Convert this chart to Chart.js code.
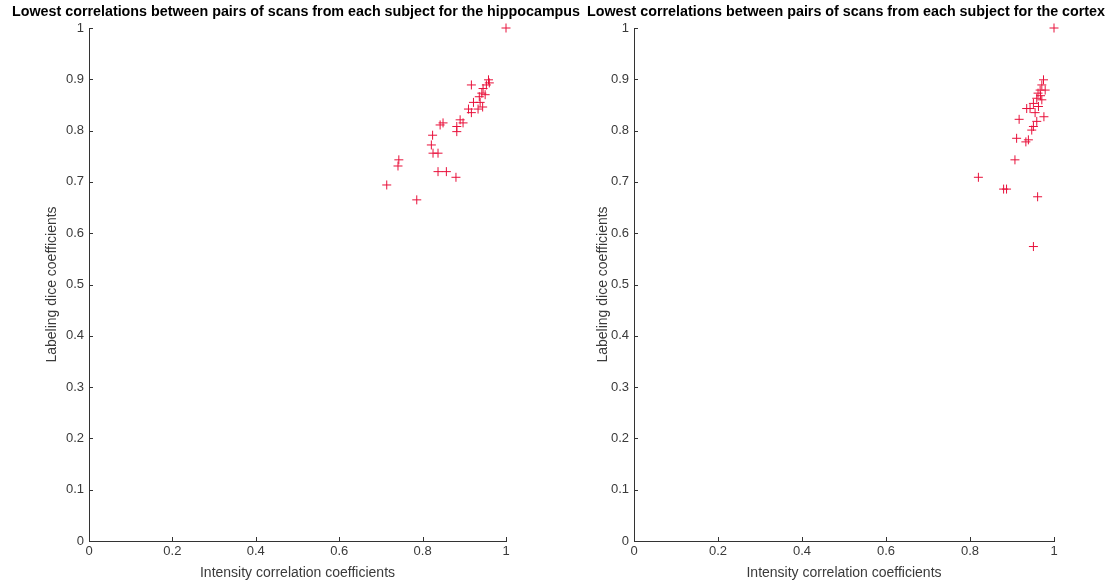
<!DOCTYPE html>
<html>
<head>
<meta charset="utf-8">
<script src="https://cdn.jsdelivr.net/npm/chart.js@4.4.1/dist/chart.umd.min.js"></script>
<style>
  html, body { margin: 0; padding: 0; background: #fff; }
  #wrap { position: relative; width: 1110px; height: 585px; overflow: hidden; }
  #wrap canvas { position: absolute; top: 0; }
  #c1 { left: 0; }
  #c2 { left: 560px; }
</style>
</head>
<body>
<div id="wrap">
  <canvas id="c1" width="592" height="585"></canvas>
  <canvas id="c2" width="572" height="585"></canvas>
</div>
<script>
// Lowest intensity correlation / labeling dice per subject, hippocampus
const hippoIntensity = [1.000, 0.958, 0.953, 0.945, 0.942, 0.936, 0.917, 0.938, 0.922, 0.910, 0.917,
  0.933, 0.950, 0.890, 0.897, 0.882, 0.882, 0.849, 0.842, 0.824, 0.821, 0.825, 0.837, 0.837,
  0.857, 0.880, 0.743, 0.741, 0.714, 0.786, 0.960, 0.944];
const hippoDice = [1.000, 0.899, 0.889, 0.882, 0.873, 0.866, 0.889, 0.855, 0.855, 0.842, 0.835,
  0.842, 0.870, 0.821, 0.815, 0.808, 0.798, 0.815, 0.811, 0.791, 0.772, 0.756, 0.756, 0.720,
  0.720, 0.709, 0.743, 0.731, 0.694, 0.665, 0.893, 0.846];

// Same measures for the cortex
const cortexIntensity = [1.000, 0.975, 0.971, 0.967, 0.962, 0.959, 0.979, 0.951, 0.943, 0.935,
  0.971, 0.963, 0.917, 0.976, 0.959, 0.951, 0.947, 0.911, 0.939, 0.933, 0.907, 0.820, 0.887,
  0.880, 0.961, 0.951, 0.968, 0.955];
const cortexDice = [1.000, 0.899, 0.889, 0.879, 0.873, 0.863, 0.879, 0.853, 0.843, 0.843,
  0.860, 0.847, 0.822, 0.827, 0.818, 0.808, 0.801, 0.785, 0.782, 0.778, 0.743, 0.709, 0.686,
  0.686, 0.671, 0.574, 0.868, 0.835];

const xTicks = [0, 0.2, 0.4, 0.6, 0.8, 1];
const yTicks = [0, 0.1, 0.2, 0.3, 0.4, 0.5, 0.6, 0.7, 0.8, 0.9, 1];

const titleHippo = 'Lowest correlations between pairs of scans from each subject for the hippocampus';
const titleCortex = 'Lowest correlations between pairs of scans from each subject for the cortex';
const xTitle = 'Intensity correlation coefficients';
const yTitle = 'Labeling dice coefficients';

const FONT = "'Liberation Sans', Arial, Helvetica, sans-serif";
const AXIS = '#333333';
const TEXT = '#3a3a3a';
const MARK = 'rgb(232, 16, 58)';

function toPoints(xs, ys) {
  return xs.map((x, i) => ({ x: x, y: ys[i] }));
}

// MATLAB-style inward tick marks
const inwardTicks = {
  id: 'inwardTicks',
  afterDraw(chart) {
    const ctx = chart.ctx;
    const xs = chart.scales.x, ys = chart.scales.y;
    const len = 4;
    ctx.save();
    ctx.strokeStyle = AXIS;
    ctx.lineWidth = 1;
    ctx.beginPath();
    xs.ticks.forEach(t => {
      const px = Math.round(xs.getPixelForValue(t.value)) + 0.5;
      ctx.moveTo(px, ys.bottom);
      ctx.lineTo(px, ys.bottom - len);
    });
    ys.ticks.forEach(t => {
      const py = Math.round(ys.getPixelForValue(t.value)) + 0.5;
      ctx.moveTo(xs.left, py);
      ctx.lineTo(xs.left + len, py);
    });
    ctx.stroke();
    ctx.restore();
  }
};

function makeChart(id, title, xsData, ysData, yAxisWidth, rightGap, yTitleOffset) {
  return new Chart(document.getElementById(id), {
    type: 'scatter',
    data: {
      datasets: [{
        data: toPoints(xsData, ysData),
        pointStyle: 'cross',
        pointRadius: 4.5,
        pointHoverRadius: 4.5,
        borderColor: MARK,
        backgroundColor: MARK,
        borderWidth: 1,
        clip: false
      }]
    },
    options: {
      responsive: false,
      animation: false,
      events: [],
      layout: { padding: 0 },
      plugins: {
        legend: { display: false },
        tooltip: { enabled: false },
        title: {
          display: true,
          text: title,
          color: '#000',
          font: { family: FONT, size: 14.3, weight: 'bold', lineHeight: 1.2 },
          padding: { top: 3, bottom: 7.84 }
        }
      },
      scales: {
        x: {
          type: 'linear',
          min: 0, max: 1,
          afterBuildTicks: s => { s.ticks = xTicks.map(v => ({ value: v })); },
          afterFit: s => { s.height = 44; },
          grid: { display: false, drawTicks: false },
          border: { display: true, color: AXIS, width: 1 },
          ticks: {
            color: TEXT, padding: 3,
            font: { family: FONT, size: 13 },
            callback: v => String(v)
          },
          title: {
            display: true, text: xTitle, color: TEXT,
            font: { family: FONT, size: 14, lineHeight: 1.2 },
            padding: { top: 0, bottom: 3.6 }
          }
        },
        y: {
          type: 'linear',
          position: 'left',
          min: 0, max: 1,
          afterBuildTicks: s => { s.ticks = yTicks.map(v => ({ value: v })); },
          afterFit: s => { s.width = yAxisWidth; },
          grid: { display: false, drawTicks: false },
          border: { display: true, color: AXIS, width: 1 },
          ticks: {
            color: TEXT, padding: 5,
            font: { family: FONT, size: 13 },
            callback: v => String(v)
          },
          title: {
            display: true, text: yTitle, color: TEXT,
            font: { family: FONT, size: 14, lineHeight: 1.2 },
            padding: { top: yTitleOffset, bottom: 0 }
          }
        },
        // empty right-hand spacer so the plot area ends before the title does
        gap: {
          type: 'linear',
          position: 'right',
          min: 0, max: 1,
          afterFit: s => { s.width = rightGap; },
          grid: { display: false, drawTicks: false },
          border: { display: false },
          ticks: { display: false }
        }
      }
    },
    plugins: [inwardTicks]
  });
}

makeChart('c1', titleHippo, hippoIntensity, hippoDice, 89, 86, 43.6);
makeChart('c2', titleCortex, cortexIntensity, cortexDice, 74, 78, 34.6);
</script>
</body>
</html>
